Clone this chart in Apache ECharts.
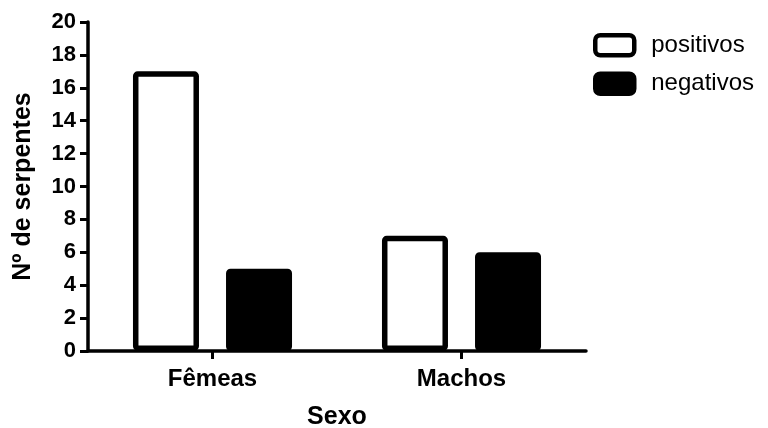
<!DOCTYPE html>
<html>
<head>
<meta charset="utf-8">
<script src="https://cdn.jsdelivr.net/npm/echarts@6/dist/echarts.min.js"></script>
<style>html,body{margin:0;padding:0;background:#fff}#c{width:768px;height:428px}</style>
</head>
<body>
<div id="c"></div>
<script>
const categories = ['Fêmeas', 'Machos'];
const positivos = [17, 7];
const negativos = [5, 6];
const yTicks = [0, 2, 4, 6, 8, 10, 12, 14, 16, 18, 20];
const seriesNames = ['positivos', 'negativos'];
const yTitle = 'Nº de serpentes';
const xTitle = 'Sexo';

const FONT = 'Liberation Sans, Arial, sans-serif';
const chart = echarts.init(document.getElementById('c'), null, {renderer: 'canvas'});
chart.setOption({
  animation: false,
  backgroundColor: '#ffffff',
  grid: {left: 88, right: 182, top: 22, bottom: 77, containLabel: false, outerBoundsMode: 'none'},
  legend: {
    orient: 'vertical', left: 588, top: 28,
    itemWidth: 39, itemHeight: 20, itemGap: 14,
    textStyle: {fontFamily: FONT, fontSize: 24, color: '#000', padding: [0, 0, 0, 12]},
    data: [
      {name: seriesNames[0], icon: 'roundRect', itemStyle: {color: '#fff', borderColor: '#000', borderWidth: 4.5}},
      {name: seriesNames[1], icon: 'roundRect', itemStyle: {color: '#000', borderColor: '#000', borderWidth: 4.5}}
    ]
  },
  xAxis: {
    type: 'category', data: categories,
    name: xTitle, nameLocation: 'middle', nameGap: 54,
    nameTextStyle: {fontFamily: FONT, fontWeight: 'bold', fontSize: 25, color: '#000'},
    axisLine: {lineStyle: {color: '#000', width: 3.5}},
    axisTick: {show: true, alignWithLabel: true, interval: 0, inside: false, length: 8, lineStyle: {color: '#000', width: 3}},
    axisLabel: {fontFamily: FONT, fontWeight: 'bold', fontSize: 24, color: '#000', margin: 16, interval: 0}
  },
  yAxis: {
    type: 'value', min: yTicks[0], max: yTicks[yTicks.length - 1], interval: yTicks[1] - yTicks[0],
    name: yTitle, nameLocation: 'middle', nameGap: 52, nameRotate: 90,
    nameTextStyle: {fontFamily: FONT, fontWeight: 'bold', fontSize: 25, color: '#000'},
    axisLine: {show: true, lineStyle: {color: '#000', width: 3.5}},
    axisTick: {show: true, inside: false, length: 8, lineStyle: {color: '#000', width: 3}},
    axisLabel: {fontFamily: FONT, fontWeight: 'bold', fontSize: 22, color: '#000', margin: 12},
    splitLine: {show: false}
  },
  series: [
    {name: seriesNames[0], type: 'bar', data: positivos, barWidth: 66, barGap: '41%',
     itemStyle: {color: '#fff', borderColor: '#000', borderWidth: 5.5, borderRadius: 2}},
    {name: seriesNames[1], type: 'bar', data: negativos, barWidth: 66,
     itemStyle: {color: '#000', borderColor: '#000', borderWidth: 5, borderRadius: 2}}
  ]
});
</script>
</body>
</html>
